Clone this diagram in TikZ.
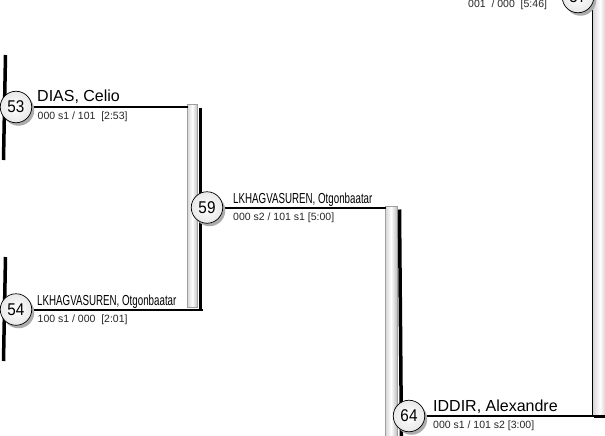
\documentclass[tikz,border=0pt]{standalone}
\usepackage{fontspec}
\usepackage{graphicx}
\setmainfont{Liberation Sans}
\tikzset{
  mcircle/.style={circle, draw=black, line width=0.7pt, minimum size=31.5pt, inner sep=0pt,
    inner color=white, outer color=gray!18,
    font=\fontsize{17}{17}\selectfont},
  mshadow/.style={fill=gray!65},
  barbox/.style={draw=gray!75, line width=0.6pt, left color=gray!35, right color=gray!50, middle color=white},
  barshadow/.style={line width=3.5pt, black},
  link/.style={line width=2pt, black},
  pname/.style={anchor=base west, inner sep=0pt, font=\fontsize{16}{18}\selectfont},
  pnamen/.style={anchor=base west, inner sep=0pt, font=\fontsize{14.5}{16}\selectfont},
  score/.style={anchor=base west, inner sep=0pt, font=\fontsize{10.5}{12}\selectfont, text=black!85},
}
\newcommand{\narrow}[1]{\scalebox{0.673}[1]{#1}}
\newcommand{\mnum}[1]{\scalebox{0.9}[1]{#1}}
\begin{document}
\begin{tikzpicture}[x=1pt,y=-1pt]
\path[use as bounding box, clip] (0,0) rectangle (605,436);
\fill[white] (0,0) rectangle (605,436);

% bar end coordinates
\coordinate (a53) at (188,107);
\coordinate (a54) at (203,309.5);
\coordinate (b59) at (386,207.5);
\coordinate (c64e) at (598,416);

% left bars (previous round)
\draw[barshadow] (5.5,55) -- (3.5,160);
\draw[barshadow] (5.5,257) -- (3.5,361);

% bar A
\path[barbox] (187,104.5) rectangle (197.5,307);
\draw[barshadow] (200.5,107.5) -- (200.5,310.5);
% bar B
\path[barbox] (385,206.5) rectangle (397,445);
\draw[barshadow] (399.5,209.5) -- (401.5,445);
% bar C
\path[barbox] (592,-10) rectangle (608,415);
\draw[black, line width=0.8pt] (592,-10) -- (592,415);
\draw[line width=2.5pt] (594,416.5) -- (608,416.5);

% connectors
\coordinate (k53) at (16,107);
\coordinate (k54) at (16,309.5);
\coordinate (k59) at (207,207.5);
\coordinate (k64) at (409,416);
\coordinate (k57) at (578,-3);
\draw[link] (k53) -- (a53);
\draw[link] (k54) -- (a54);
\draw[link] (k59) -- (b59);
\draw[link] (k64) -- (c64e);

% circle shadows
\foreach \k in {k53,k54,k59,k64,k57}
  \fill[mshadow] ([xshift=2.5pt,yshift=-3pt]\k) circle (15.75);

% circles
\node[mcircle] (c53) at (k53) {\mnum{53}};
\node[mcircle] (c54) at (k54) {\mnum{54}};
\node[mcircle] (c59) at (k59) {\mnum{59}};
\node[mcircle] (c64) at (k64) {\mnum{64}};
\node[mcircle] (c57) at (k57) {\mnum{57}};

% names
\node[pname] (n53) at (37,101.5) {DIAS, Celio};
\node[pnamen] (n54) at (37,305) {\narrow{LKHAGVASUREN, Otgonbaatar}};
\node[pnamen] (n59) at (233,203) {\narrow{LKHAGVASUREN, Otgonbaatar}};
\node[pname] (n64) at (433,411.5) {IDDIR, Alexandre};

% scores
\node[score] (s53) at (37.5,119.3) {000 s1 / 101~~[2:53]};
\node[score] (s54) at (37.5,322.5) {100 s1 / 000~~[2:01]};
\node[score] (s59) at (233,220) {000 s2 / 101 s1 [5:00]};
\node[score] (s64) at (433,428.5) {000 s1 / 101 s2 [3:00]};
\node[score] (s57) at (468,7.5) {001~~/ 000~~[5:46]};
\end{tikzpicture}
\end{document}
